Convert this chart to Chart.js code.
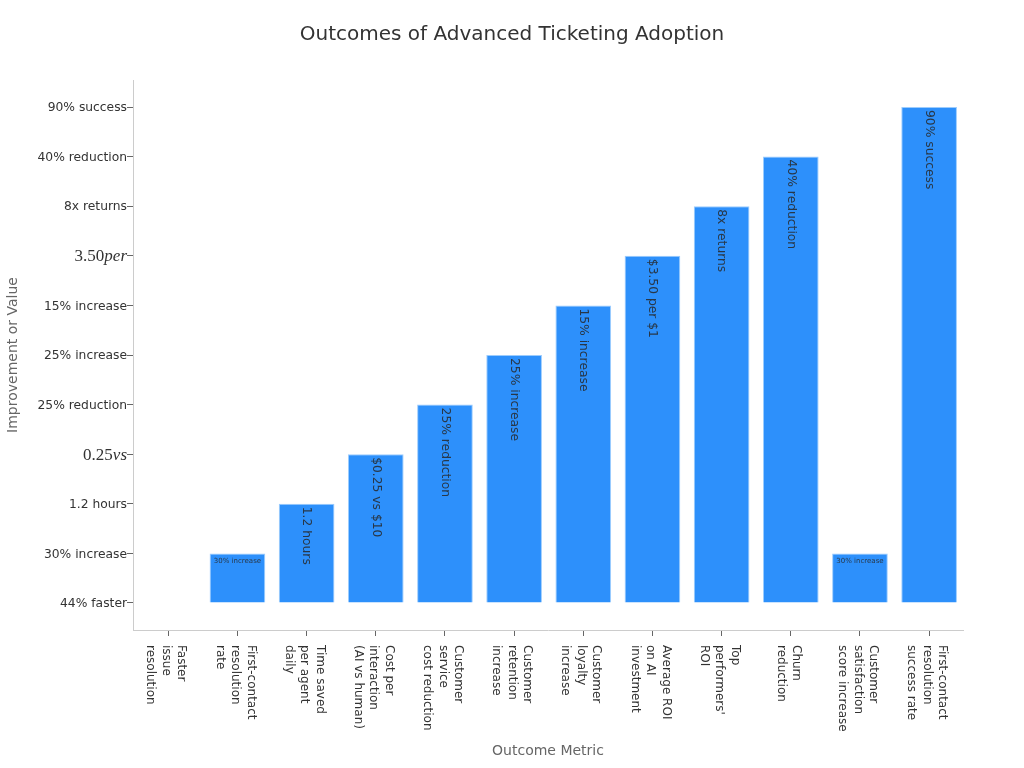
<!DOCTYPE html>
<html><head><meta charset="utf-8">
<style>html,body{margin:0;padding:0;background:#fff}canvas{display:block}</style>
<script src="https://cdn.jsdelivr.net/npm/chart.js@4/dist/chart.umd.min.js"></script>
</head><body><canvas id="c" width="1024" height="768"></canvas>
<script>
const categories = [
  ["Faster","issue","resolution"],
  ["First-contact","resolution","rate"],
  ["Time saved","per agent","daily"],
  ["Cost per","interaction","(AI vs human)"],
  ["Customer","service","cost reduction"],
  ["Customer","retention","increase"],
  ["Customer","loyalty","increase"],
  ["Average ROI","on AI","investment"],
  ["Top","performers'","ROI"],
  ["Churn","reduction"],
  ["Customer","satisfaction","score increase"],
  ["First-contact","resolution","success rate"]
];
const yLabels = ["44% faster","30% increase","1.2 hours","0.25vs","25% reduction","25% increase","15% increase","3.50per","8x returns","40% reduction","90% success"];
const mathLabels = {"0.25vs":["0.25","vs"],"3.50per":["3.50","per"]};
const outcomes = ["44% faster","30% increase","1.2 hours","0.25vs","25% reduction","25% increase","15% increase","3.50per","8x returns","40% reduction","30% increase","90% success"];
const barTexts = ["44% faster","30% increase","1.2 hours","$0.25 vs $10","25% reduction","25% increase","15% increase","$3.50 per $1","8x returns","40% reduction","30% increase","90% success"];
const values = outcomes.map(o => yLabels.indexOf(o));

const FONT = '"DejaVu Sans"';
class DownCategory extends Chart.CategoryScale {
  static id = 'downCategory';
  static defaults = Chart.CategoryScale.defaults;
  getPixelForValue(v){ return super.getPixelForValue(v) + 0.7; }
  _computeLabelItems(area){
    const items = super._computeLabelItems(area);
    const lh = this._resolveTickFontOptions(0).lineHeight;
    for (const it of items){
      const n = Array.isArray(it.label) ? it.label.length : 1;
      it.textOffset = -((n-1)/2)*lh + 10;
      it.options.textAlign = 'left';
      it.options.textBaseline = 'middle';
      it.options.translation = [it.options.translation[0], this.top + 15];
    }
    return items;
  }
}
class LabelLinear extends Chart.LinearScale {
  static id = 'labelLinear';
  static defaults = Chart.LinearScale.defaults;
  _computeLabelItems(area){
    const items = super._computeLabelItems(area);
    for (const it of items){
      const t = it.options.translation;
      it.options.translation = [t[0], t[1] + 1];
    }
    return items;
  }
}
Chart.register(DownCategory, LabelLinear);

const barLabels = {
  id:'barLabels',
  afterLayout(chart){
    chart.titleBlock.left = 0;
    chart.titleBlock.right = chart.width;
  },
  afterDatasetsDraw(chart){
    const ctx = chart.ctx, meta = chart.getDatasetMeta(0);
    meta.data.forEach((bar,i)=>{
      if (values[i] === 0) return;
      ctx.save();
      ctx.fillStyle = 'rgba(40,40,40,0.85)';
      ctx.textBaseline = 'middle';
      if (values[i] === 1){
        ctx.font = '7px '+FONT; ctx.textAlign='center';
        ctx.fillText(barTexts[i], bar.x, bar.y+8);
      } else {
        ctx.font = '12.3px '+FONT; ctx.textAlign='left';
        ctx.translate(bar.x, bar.y+3); ctx.rotate(Math.PI/2);
        ctx.fillText(barTexts[i], 0, 0);
      }
      ctx.restore();
    });
  },
  afterDraw(chart){
    const ctx = chart.ctx, y = chart.scales.y;
    yLabels.forEach((l,i)=>{
      const m = mathLabels[l]; if(!m) return;
      ctx.save();
      ctx.fillStyle='#333'; ctx.textBaseline='middle'; ctx.textAlign='left';
      const py = y.getPixelForValue(i)+1;
      const rom='17px "Liberation Serif"', ita='italic 17px "Liberation Serif"';
      ctx.font=ita; const w2=ctx.measureText(m[1]).width;
      ctx.font=rom; const w1=ctx.measureText(m[0]).width;
      const x0=y.right-6-w1-w2;
      ctx.fillText(m[0],x0,py);
      ctx.font=ita; ctx.fillText(m[1],x0+w1,py);
      ctx.restore();
    });
  }
};

new Chart(document.getElementById('c'),{
  type:'bar',
  data:{labels:categories,datasets:[{data:values,backgroundColor:'#2d90fb',borderColor:'#9cccfd',borderWidth:1,barPercentage:0.805,categoryPercentage:1}]},
  plugins:[barLabels],
  options:{
    responsive:false,animation:false,devicePixelRatio:1,
    layout:{padding:{left:0,right:61,top:0,bottom:0}},
    plugins:{legend:{display:false},tooltip:{enabled:false},
      title:{display:true,text:'Outcomes of Advanced Ticketing Adoption',color:'#333',font:{family:FONT,size:20,weight:'normal'},padding:{top:23,bottom:33}}},
    scales:{
      x:{type:'downCategory',
        afterFit(s){s.height=138;},
        grid:{drawOnChartArea:false,offset:false,tickLength:6,tickColor:'#666'},
        border:{color:'#ccc',width:1},
        ticks:{color:'#333',font:{family:FONT,size:12,lineHeight:1.29},autoSkip:false,minRotation:-90,maxRotation:-90,padding:3},
        title:{display:true,text:'Outcome Metric',color:'#666',font:{family:FONT,size:14,weight:'normal'},padding:{top:7,bottom:8}}
      },
      y:{type:'labelLinear',min:-0.545,max:10.545,
        afterFit(s){s.width=133;},
        afterBuildTicks(s){s.ticks=yLabels.map((_,i)=>({value:i}));},
        grid:{drawOnChartArea:false,tickLength:6,tickColor:'#666'},
        border:{color:'#ccc',width:1},
        ticks:{color:'#333',font:{family:FONT,size:12.3},padding:0,autoSkip:false,
          callback(v){const l=yLabels[v];return mathLabels[l]?'':l;}},
        title:{display:true,text:'Improvement or Value',color:'#666',font:{family:FONT,size:14,weight:'normal'},padding:{top:5,bottom:5}}
      }
    }
  }
});
</script></body></html>
